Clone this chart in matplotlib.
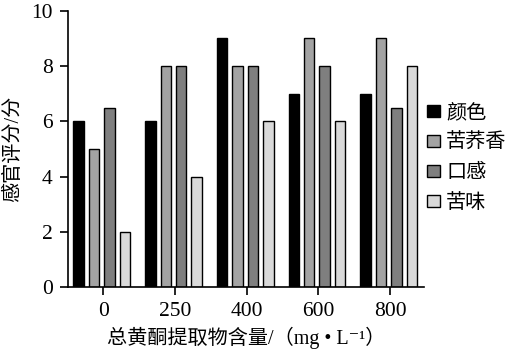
import matplotlib
matplotlib.use("Agg")
import matplotlib.pyplot as plt
import numpy as np

plt.rcParams['font.family'] = ['Liberation Serif', 'Noto Sans CJK SC', 'DejaVu Sans']

categories = ['0', '250', '400', '600', '800']
series_names = ['颜色', '苦荞香', '口感', '苦味']
color_vals = [6, 6, 9, 7, 7]
aroma_vals = [5, 8, 8, 9, 9]
taste_vals = [6.5, 8, 8, 8, 6.5]
bitter_vals = [2, 4, 6, 6, 8]
series = [color_vals, aroma_vals, taste_vals, bitter_vals]
colors = ['#000000', '#a3a3a3', '#7f7f7f', '#d9d9d9']

fig = plt.figure(figsize=(5.15, 3.62), dpi=100)
ax = fig.add_axes([0.132, 0.207, 0.691, 0.763])

x = np.arange(len(categories))
step = 0.215
width = 0.145
for i, (vals, name, c) in enumerate(zip(series, series_names, colors)):
    ax.bar(x + (i - 1.5) * step - 0.02, vals, width, color=c, edgecolor='black',
           linewidth=1.0, label=name)

ax.set_xlim(-0.49, 4.47)
ax.set_ylim(0, 10)
ax.set_yticks([0, 2, 4, 6, 8, 10])
ax.set_xticks(x)
ax.set_xticklabels(categories)
for s in ['top', 'right']:
    ax.spines[s].set_visible(False)
for s in ['left', 'bottom']:
    ax.spines[s].set_linewidth(1.2)
ax.tick_params(axis='both', labelsize=15.5, length=6, width=1.2, direction='out')
ax.tick_params(axis='x', pad=5)
ax.tick_params(axis='y', pad=5)

ax.set_ylabel('感官评分/分', fontsize=14.5, labelpad=6)
ax.set_xlabel('总黄酮提取物含量/（mg • L⁻¹）', fontsize=14.5, labelpad=4)

leg = ax.legend(loc='center left', bbox_to_anchor=(1.008, 0.465), frameon=False,
                fontsize=14.5, handlelength=0.67, handleheight=0.5,
                handletextpad=0.3, labelspacing=0.55, borderaxespad=0,
                borderpad=0)

fig.savefig('out.png', dpi=100)
